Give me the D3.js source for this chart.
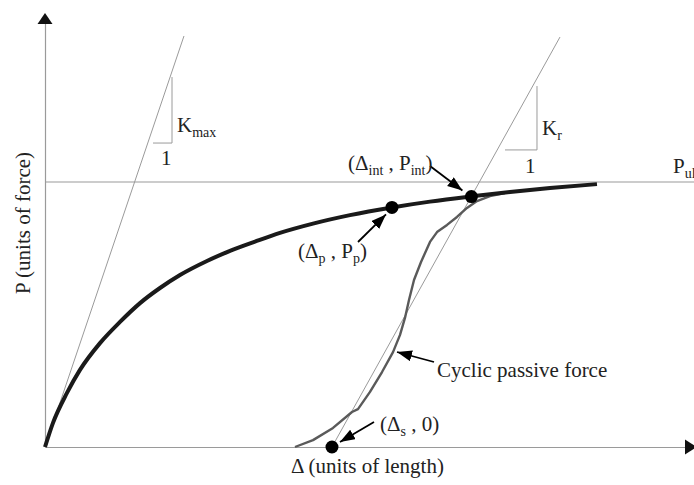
<!DOCTYPE html>
<html><head><meta charset="utf-8">
<script src="https://cdn.jsdelivr.net/npm/d3@7"></script>
<style>
html,body{margin:0;padding:0;background:#fff;}
svg{display:block;font-family:"Liberation Serif","Times New Roman",serif;}
</style></head>
<body>
<svg id="chart" width="694" height="485"></svg>
<script>
// ---- data (Δ in length units, P normalised so that P_ult = 1) ----
const backboneDelta = [0, 0.123, 0.338, 0.538, 0.846, 1.154, 1.462, 1.769, 2.077, 2.492, 2.846, 3.231, 3.615, 4.123, 4.692, 5.338, 5.923, 6.538, 7.154, 7.769, 8.492];
const backboneP     = [0, 0.091, 0.204, 0.291, 0.392, 0.472, 0.543, 0.600, 0.649, 0.702, 0.740, 0.775, 0.808, 0.843, 0.875, 0.904, 0.926, 0.945, 0.962, 0.977, 0.992];
const cyclicDelta = [3.846, 4.123, 4.431, 4.723, 4.815, 5.0, 5.185, 5.354, 5.462, 5.538, 5.6, 5.677, 5.785, 5.923, 6.031, 6.185, 6.338, 6.492, 6.646, 6.846, 7.077];
const cyclicP     = [0, 0.026, 0.072, 0.132, 0.143, 0.208, 0.283, 0.358, 0.423, 0.487, 0.555, 0.630, 0.698, 0.774, 0.811, 0.838, 0.868, 0.902, 0.928, 0.947, 0.958];
const Pult = 1.0;
const kmaxLine = [[0, 0], [2.138, 1.551]];
const krLine = [[4.415, 0], [7.923, 1.547]];
const kmaxTriangle = [[1.662, 1.147], [1.954, 1.147], [1.954, 1.396]];
const krTriangle = [[7.077, 1.121], [7.569, 1.121], [7.569, 1.362]];
const pointP = [5.338, 0.904];
const pointInt = [6.56, 0.945];
const pointS = [4.415, 0];
const xDomain = [0, 10];
const yDomain = [0, 1.6];

const svg = d3.select("#chart");
const x = d3.scaleLinear().domain(xDomain).range([45, 695]);
const y = d3.scaleLinear().domain(yDomain).range([447, 23]);
const thin = "#9a9a9a";
const ink = "#1a1a1a";

// axes (no ticks)
svg.append("g").attr("transform", `translate(0,${y(0)})`)
  .call(d3.axisBottom(x).tickValues([]).tickSizeOuter(0))
  .select(".domain").attr("stroke", thin).attr("stroke-width", 1.2);
svg.append("g").attr("transform", `translate(${x(0)},0)`)
  .call(d3.axisLeft(y).tickValues([]).tickSizeOuter(0))
  .select(".domain").attr("stroke", thin).attr("stroke-width", 1.2);

// axis arrowheads
const ax0 = x(0), ay0 = y(0);
svg.append("path").attr("d", `M${ax0-7.5},${y(yDomain[1])+1} L${ax0+7.5},${y(yDomain[1])+1} L${ax0},${y(yDomain[1])-10} Z`).attr("fill", "#111");
svg.append("path").attr("d", `M${x(9.846)},${ay0-7.5} L${x(9.846)},${ay0+7.5} L${x(9.846)+12},${ay0} Z`).attr("fill", "#111");

// P_ult line
svg.append("line").attr("x1", x(0)).attr("x2", x(xDomain[1])).attr("y1", y(Pult)).attr("y2", y(Pult))
  .attr("stroke", thin).attr("stroke-width", 1.2);

const line = d3.line().x(d => x(d[0])).y(d => y(d[1]));
// stiffness lines
svg.append("path").attr("d", line(kmaxLine)).attr("stroke", thin).attr("stroke-width", 1).attr("fill", "none");
svg.append("path").attr("d", line(krLine)).attr("stroke", thin).attr("stroke-width", 1).attr("fill", "none");
svg.append("path").attr("d", line(kmaxTriangle)).attr("stroke", thin).attr("stroke-width", 1).attr("fill", "none");
svg.append("path").attr("d", line(krTriangle)).attr("stroke", thin).attr("stroke-width", 1).attr("fill", "none");

// cyclic passive force curve
const cyc = cyclicDelta.map((d, i) => [d, cyclicP[i]]);
svg.append("path").attr("d", line(cyc))
  .attr("stroke", "#5a5a5a").attr("stroke-width", 2.4).attr("fill", "none").attr("stroke-linejoin", "round");

// backbone curve
const bb = backboneDelta.map((d, i) => [d, backboneP[i]]);
svg.append("path").attr("d", d3.line().x(d => x(d[0])).y(d => y(d[1])).curve(d3.curveMonotoneX)(bb))
  .attr("stroke", ink).attr("stroke-width", 4).attr("fill", "none").attr("stroke-linecap", "butt");

// points
[pointP, pointInt, pointS].forEach(p => {
  svg.append("circle").attr("cx", x(p[0])).attr("cy", y(p[1])).attr("r", 6.5).attr("fill", "#000");
});

// annotation arrows
svg.append("defs").append("marker").attr("id", "ah").attr("markerUnits", "userSpaceOnUse")
  .attr("markerWidth", 16).attr("markerHeight", 12).attr("refX", 15).attr("refY", 5.5).attr("orient", "auto")
  .append("path").attr("d", "M0,0 L15,5.5 L0,11 Z").attr("fill", "#000");
function arrow(x1, y1, x2, y2) {
  svg.append("line").attr("x1", x1).attr("y1", y1).attr("x2", x2).attr("y2", y2)
    .attr("stroke", "#000").attr("stroke-width", 1.8).attr("marker-end", "url(#ah)");
}
arrow(430, 166, x(pointInt[0]) - 9, y(pointInt[1]) - 6);
arrow(358, 242, x(pointP[0]) - 6, y(pointP[1]) + 7);
arrow(434, 362, 397, 352);
arrow(374, 422, x(pointS[0]) + 8, y(pointS[1]) - 5);

// text helpers
const FS = 21, SFS = 14;
function label(xp, yp, parts, anchor) {
  const t = svg.append("text").attr("x", xp).attr("y", yp).attr("font-size", FS).attr("fill", "#222")
    .attr("text-anchor", anchor || "start");
  let sub = false;
  parts.forEach(p => {
    const isSub = typeof p === "object";
    const s = t.append("tspan").text(isSub ? p.sub : p);
    if (isSub && !sub) { s.attr("font-size", SFS).attr("dy", 5); sub = true; }
    else if (isSub) { s.attr("font-size", SFS); }
    else if (!isSub && sub) { s.attr("dy", -5); sub = false; }
  });
  return t;
}
label(177, 132, ["K", {sub: "max"}]);
label(161, 165, ["1"]);
label(542, 135, ["K", {sub: "r"}]);
label(525, 173, ["1"]);
label(673, 173, ["P", {sub: "ult"}]);
label(348, 170, ["(Δ", {sub: "int"}, " , P", {sub: "int"}, ")"]);
label(298, 258, ["(Δ", {sub: "p"}, " , P", {sub: "p"}, ")"]);
label(380, 431, ["(Δ", {sub: "s"}, " , 0)"]);
label(437, 377, ["Cyclic passive force"]);
label(291, 473, ["Δ (units of length)"]);
svg.append("text").attr("transform", "translate(30,223) rotate(-90)").attr("text-anchor", "middle")
  .attr("font-size", FS).attr("fill", "#222").text("P (units of force)");
</script>
</body></html>
